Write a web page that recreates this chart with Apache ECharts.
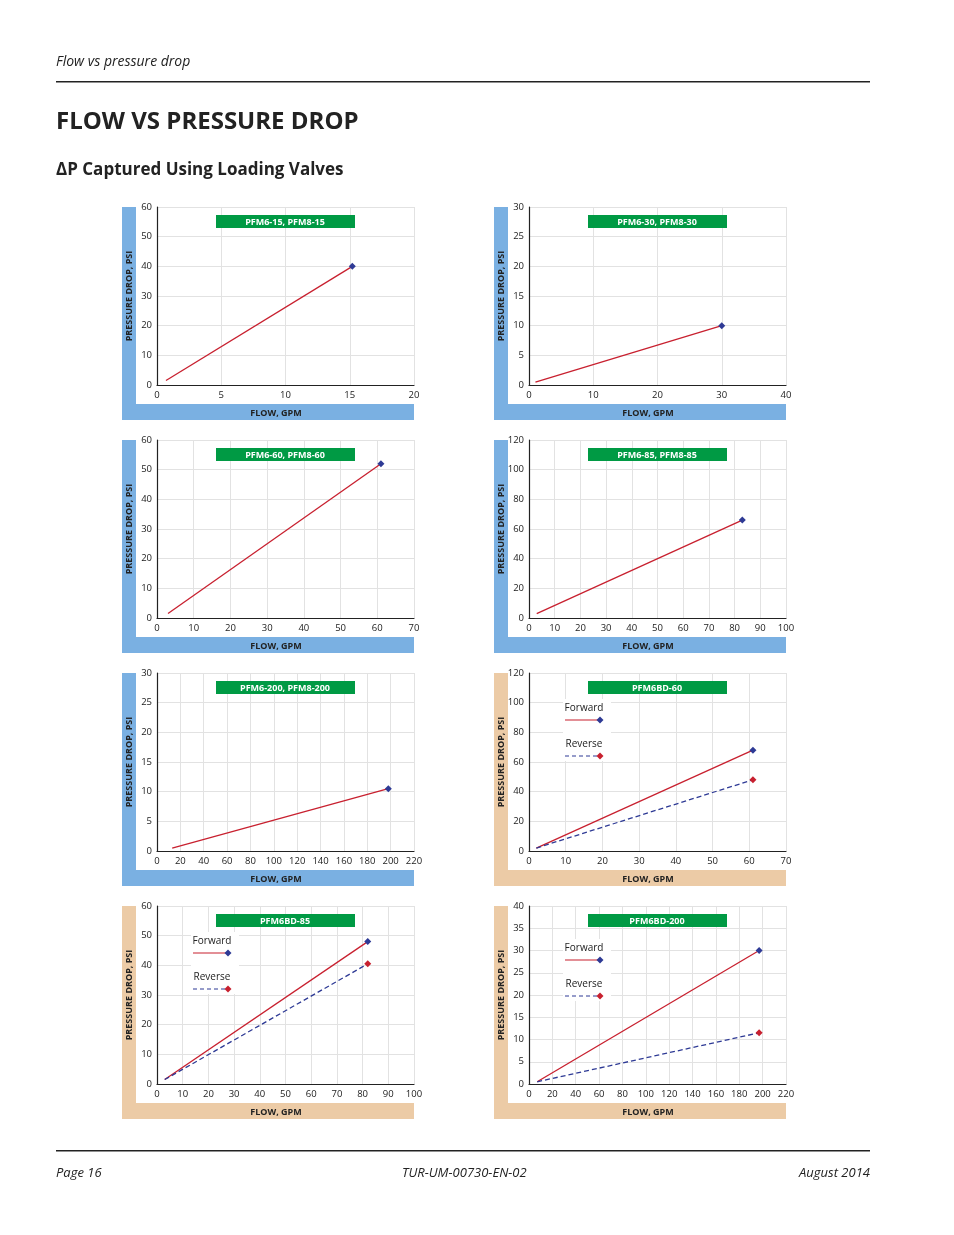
<!DOCTYPE html>
<html><head><meta charset="utf-8">
<script src="https://cdn.jsdelivr.net/npm/echarts@6/dist/echarts.min.js"></script>
<style>html,body{margin:0;padding:0;background:#fff}#c{width:954px;height:1235px}</style>
</head><body><div id="c"></div>
<script>
const titles = ['PFM6-15, PFM8-15','PFM6-30, PFM8-30','PFM6-60, PFM8-60','PFM6-85, PFM8-85','PFM6-200, PFM8-200','PFM6BD-60','PFM6BD-85','PFM6BD-200'];
const xMax = [20,40,70,100,220,70,100,220];
const xStep = [5,10,10,10,20,10,10,20];
const yMax = [60,30,60,120,30,120,60,40];
const yStep = [10,5,10,20,5,20,10,5];
const forwardData = [
  [[0.7,1.5],[15.2,40]],
  [[1,0.5],[30,10]],
  [[3,1.5],[61,52]],
  [[3,3],[83,66]],
  [[13,0.5],[198,10.5]],
  [[2,2],[61,68]],
  [[3,1.5],[82,48]],
  [[7,0.5],[197,30]]
];
const reverseData = [null,null,null,null,null,
  [[2,2],[61,48]],
  [[3,1.5],[82,40.5]],
  [[7,0.5],[197,11.5]]
];
const bandColor = ['#7ab0e2','#7ab0e2','#7ab0e2','#7ab0e2','#7ab0e2','#eccba6','#eccba6','#eccba6'];

const chart = echarts.init(document.getElementById('c'));
const grids=[],xAxes=[],yAxes=[],series=[],graphic=[];
const F='"Open Sans", "Noto Sans", sans-serif';
const dia=(cx,cy,c)=>({type:'polygon',z:6,shape:{points:[[cx,cy-3.5],[cx+3.5,cy],[cx,cy+3.5],[cx-3.5,cy]]},style:{fill:c}});
graphic.push(
 {type:'text',x:56,y:62,style:{text:'Flow vs pressure drop',font:'italic 14px '+F,fill:'#222',verticalAlign:'middle'}},
 {type:'rect',shape:{x:56,y:81,width:814,height:1.5},style:{fill:'#222'}},
 {type:'text',x:56,y:122,style:{text:'FLOW VS PRESSURE DROP',font:'bold 24px '+F,fill:'#222',verticalAlign:'middle'}},
 {type:'text',x:56,y:170,style:{text:'ΔP Captured Using Loading Valves',font:'bold 17px '+F,fill:'#222',verticalAlign:'middle'}},
 {type:'rect',shape:{x:56,y:1150,width:814,height:1.5},style:{fill:'#222'}},
 {type:'text',x:56,y:1173,style:{text:'Page 16',font:'italic 13px '+F,fill:'#222',verticalAlign:'middle'}},
 {type:'text',x:402,y:1173,style:{text:'TUR-UM-00730-EN-02',font:'italic 13px '+F,fill:'#222',verticalAlign:'middle'}},
 {type:'text',x:870,y:1173,style:{text:'August 2014',font:'italic 13px '+F,fill:'#222',align:'right',verticalAlign:'middle'}}
);
for(let i=0;i<8;i++){
  const col=i%2,row=Math.floor(i/2);
  const px = col?529:157, py = 207+row*233, pw=257, ph=178;
  const bx = px-35;
  graphic.push(
    {type:'rect',z:-1,shape:{x:bx,y:py,width:14,height:213},style:{fill:bandColor[i]}},
    {type:'rect',z:-1,shape:{x:bx,y:py+197,width:pw+35,height:16},style:{fill:bandColor[i]}},
    {type:'text',x:px+119,y:py+206,style:{text:'FLOW, GPM',font:'bold 9px '+F,fill:'#222',align:'center',verticalAlign:'middle'}},
    {type:'text',x:bx+7,y:py+89,rotation:Math.PI/2,style:{text:'PRESSURE DROP, PSI',font:'bold 9px '+F,fill:'#222',align:'center',verticalAlign:'middle'}},
    {type:'rect',z:5,shape:{x:px+59,y:py+8,width:139,height:13},style:{fill:'#009a44'}},
    {type:'text',z:6,x:px+128,y:py+15,style:{text:titles[i],font:'bold 9px '+F,fill:'#fff',align:'center',verticalAlign:'middle'}}
  );
  if(reverseData[i]){
    const lx=px+36, ly=py+(i===7?7:0);
    graphic.push(
      {type:'rect',z:4,shape:{x:lx-2,y:ly+26,width:48,height:62},style:{fill:'#fff'}},
      {type:'text',z:5,x:lx+19,y:ly+35,style:{text:'Forward',font:'10px '+F,fill:'#222',align:'center',verticalAlign:'middle'}},
      {type:'line',z:5,shape:{x1:lx,y1:ly+47,x2:lx+35,y2:ly+47},style:{stroke:'#c8202f',lineWidth:1.2}},
      dia(lx+35,ly+47,'#2e3a95'),
      {type:'text',z:5,x:lx+19,y:ly+71,style:{text:'Reverse',font:'10px '+F,fill:'#222',align:'center',verticalAlign:'middle'}},
      {type:'line',z:5,shape:{x1:lx,y1:ly+83,x2:lx+35,y2:ly+83},style:{stroke:'#2e3a95',lineWidth:1.2,lineDash:[4,3]}},
      dia(lx+35,ly+83,'#c8202f')
    );
  }
  grids.push({left:px,top:py,width:pw,height:ph});
  xAxes.push({gridIndex:i,type:'value',min:0,max:xMax[i],interval:xStep[i],
    axisLine:{lineStyle:{color:'#222',width:1.2}},axisTick:{show:false},
    axisLabel:{color:'#222',fontSize:9.5,fontFamily:F,margin:5},
    splitLine:{lineStyle:{color:'#e2e2e2'}}});
  yAxes.push({gridIndex:i,type:'value',min:0,max:yMax[i],interval:yStep[i],
    axisLine:{show:true,lineStyle:{color:'#222',width:1.2}},axisTick:{show:false},
    axisLabel:{color:'#222',fontSize:9.5,fontFamily:F,margin:5},
    splitLine:{lineStyle:{color:'#e2e2e2'}}});
  const mk=(d,sc)=>d.map((p,j)=>({value:p,symbol:j===d.length-1?'diamond':'none',symbolSize:7,itemStyle:{color:sc}}));
  series.push({type:'line',xAxisIndex:i,yAxisIndex:i,data:mk(forwardData[i],'#2e3a95'),
    lineStyle:{color:'#c8202f',width:1.3},z:3,animation:false});
  if(reverseData[i]) series.push({type:'line',xAxisIndex:i,yAxisIndex:i,data:mk(reverseData[i],'#c8202f'),
    lineStyle:{color:'#2e3a95',width:1.3,type:[5,3]},z:3,animation:false});
}
chart.setOption({animation:false,grid:grids,xAxis:xAxes,yAxis:yAxes,series,graphic});
</script></body></html>
